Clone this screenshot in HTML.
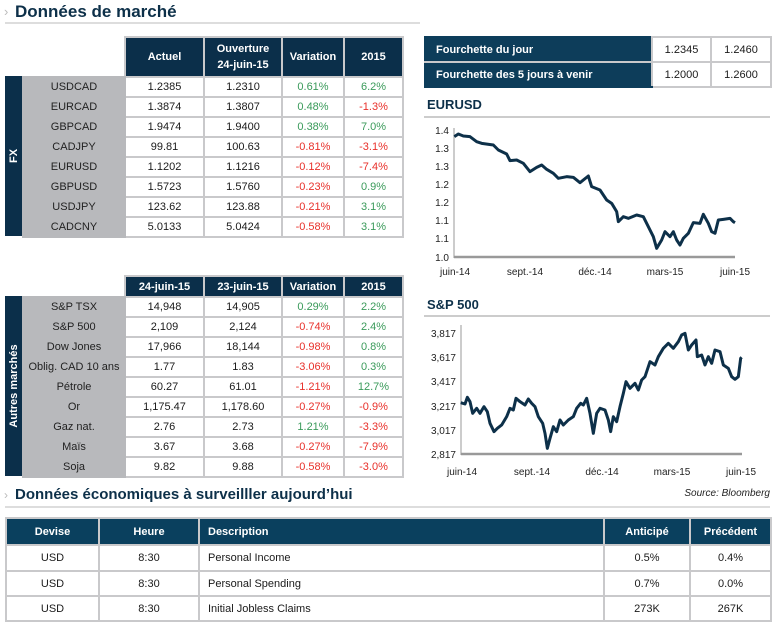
<!DOCTYPE html>
<html><head><meta charset="utf-8"><style>
*{margin:0;padding:0;box-sizing:border-box}
body{width:780px;height:628px;background:#fff;font-family:"Liberation Sans",sans-serif;position:relative;overflow:hidden;color:#1a1a1a}
.a{position:absolute}
.t{font-weight:bold;color:#0d3049}
table{border-collapse:collapse;position:absolute;font-size:11px;table-layout:fixed}
td{border:2px solid #c9c9cb;text-align:center;padding:0;white-space:nowrap;overflow:hidden}
th{background:#0b2f4a;color:#fff;font-weight:bold;border:2px solid #c9c9cb;font-size:11px;text-align:center}
td.l{background:#b8b9bc;border-color:#b8b9bc;color:#222}
.g{color:#3a9a5a}.r{color:#e8302a}
.side{position:absolute;background:#0b2f4a;color:#fff;font-size:11px;font-weight:bold}
.side span{position:absolute;left:50%;top:50%;transform:translate(-50%,-50%) rotate(-90deg);white-space:nowrap}
.ax{font-size:10px;fill:#222;font-family:"Liberation Sans",sans-serif}
</style></head><body>
<div class="a" style="left:4px;top:4px;color:#bbb;font-size:13px">›</div>
<div class="a t" style="left:15px;top:2px;font-size:17px">Données de marché</div>
<div class="a" style="left:5px;top:22px;width:415px;height:2px;background:#ddd"></div>

<table style="left:124px;top:36px;width:278px">
<colgroup><col style="width:79px"><col style="width:78px"><col style="width:62px"><col style="width:59px"></colgroup>
<tr style="height:40px"><th>Actuel</th><th style="line-height:16px">Ouverture<br>24-juin-15</th><th>Variation</th><th>2015</th></tr>
</table>
<div class="side" style="left:5px;top:76px;width:17px;height:160px"><span>FX</span></div>
<table style="left:22px;top:76px;width:380px">
<colgroup><col style="width:102px"><col style="width:79px"><col style="width:78px"><col style="width:62px"><col style="width:59px"></colgroup>
<tr style="height:20px"><td class="l">USDCAD</td><td>1.2385</td><td>1.2310</td><td class="g">0.61%</td><td class="g">6.2%</td></tr>
<tr style="height:20px"><td class="l">EURCAD</td><td>1.3874</td><td>1.3807</td><td class="g">0.48%</td><td class="r">-1.3%</td></tr>
<tr style="height:20px"><td class="l">GBPCAD</td><td>1.9474</td><td>1.9400</td><td class="g">0.38%</td><td class="g">7.0%</td></tr>
<tr style="height:20px"><td class="l">CADJPY</td><td>99.81</td><td>100.63</td><td class="r">-0.81%</td><td class="r">-3.1%</td></tr>
<tr style="height:20px"><td class="l">EURUSD</td><td>1.1202</td><td>1.1216</td><td class="r">-0.12%</td><td class="r">-7.4%</td></tr>
<tr style="height:20px"><td class="l">GBPUSD</td><td>1.5723</td><td>1.5760</td><td class="r">-0.23%</td><td class="g">0.9%</td></tr>
<tr style="height:20px"><td class="l">USDJPY</td><td>123.62</td><td>123.88</td><td class="r">-0.21%</td><td class="g">3.1%</td></tr>
<tr style="height:20px"><td class="l">CADCNY</td><td>5.0133</td><td>5.0424</td><td class="r">-0.58%</td><td class="g">3.1%</td></tr>
</table>

<table style="left:124px;top:275px;width:278px">
<colgroup><col style="width:79px"><col style="width:78px"><col style="width:62px"><col style="width:59px"></colgroup>
<tr style="height:21px"><th>24-juin-15</th><th>23-juin-15</th><th>Variation</th><th>2015</th></tr>
</table>
<div class="side" style="left:5px;top:296px;width:17px;height:180px"><span>Autres marchés</span></div>
<table style="left:22px;top:296px;width:380px">
<colgroup><col style="width:102px"><col style="width:79px"><col style="width:78px"><col style="width:62px"><col style="width:59px"></colgroup>
<tr style="height:20px"><td class="l">S&amp;P TSX</td><td>14,948</td><td>14,905</td><td class="g">0.29%</td><td class="g">2.2%</td></tr>
<tr style="height:20px"><td class="l">S&amp;P 500</td><td>2,109</td><td>2,124</td><td class="r">-0.74%</td><td class="g">2.4%</td></tr>
<tr style="height:20px"><td class="l">Dow Jones</td><td>17,966</td><td>18,144</td><td class="r">-0.98%</td><td class="g">0.8%</td></tr>
<tr style="height:20px"><td class="l">Oblig. CAD 10 ans</td><td>1.77</td><td>1.83</td><td class="r">-3.06%</td><td class="g">0.3%</td></tr>
<tr style="height:20px"><td class="l">Pétrole</td><td>60.27</td><td>61.01</td><td class="r">-1.21%</td><td class="g">12.7%</td></tr>
<tr style="height:20px"><td class="l">Or</td><td>1,175.47</td><td>1,178.60</td><td class="r">-0.27%</td><td class="r">-0.9%</td></tr>
<tr style="height:20px"><td class="l">Gaz nat.</td><td>2.76</td><td>2.73</td><td class="g">1.21%</td><td class="r">-3.3%</td></tr>
<tr style="height:20px"><td class="l">Maïs</td><td>3.67</td><td>3.68</td><td class="r">-0.27%</td><td class="r">-7.9%</td></tr>
<tr style="height:20px"><td class="l">Soja</td><td>9.82</td><td>9.88</td><td class="r">-0.58%</td><td class="r">-3.0%</td></tr>
</table>

<table style="left:424px;top:36px;width:346px">
<colgroup><col style="width:227px"><col style="width:59px"><col style="width:60px"></colgroup>
<tr style="height:25px"><th style="text-align:left;padding-left:10px;border-color:#0d3d5a #c9c9cb #c9c9cb #0d3d5a;background:#0d3d5a">Fourchette du jour</th><td>1.2345</td><td>1.2460</td></tr>
<tr style="height:25px"><th style="text-align:left;padding-left:10px;border-color:#c9c9cb #c9c9cb #0d3d5a #0d3d5a;background:#0d3d5a">Fourchette des 5 jours à venir</th><td>1.2000</td><td>1.2600</td></tr>
</table>

<div class="a t" style="left:427px;top:97px;font-size:13px">EURUSD</div>
<div class="a" style="left:424px;top:116px;width:346px;height:2px;background:#ccc"></div>
<div class="a t" style="left:427px;top:297px;font-size:13px">S&amp;P 500</div>
<div class="a" style="left:424px;top:315px;width:346px;height:2px;background:#ccc"></div>

<svg class="a" style="left:0;top:0" width="780" height="628">
<g class="ax" text-anchor="end">
<text x="449" y="134">1.4</text><text x="449" y="152">1.3</text><text x="449" y="170">1.3</text><text x="449" y="188">1.2</text><text x="449" y="206">1.2</text><text x="449" y="224">1.1</text><text x="449" y="242">1.1</text><text x="449" y="261">1.0</text>
</g>
<line x1="454" y1="128" x2="454" y2="258" stroke="#999"/>
<line x1="454" y1="257" x2="735" y2="257" stroke="#999" stroke-width="2.5"/>
<g class="ax" text-anchor="middle"><text x="455" y="275">juin-14</text><text x="525" y="275">sept.-14</text><text x="595" y="275">déc.-14</text><text x="665" y="275">mars-15</text><text x="735" y="275">juin-15</text></g>
<g transform="translate(410,30) scale(0.33333)"><polyline fill="none" stroke="#0d3049" stroke-width="9" stroke-linejoin="round" points="133,320 145,312 160,318 180,320 200,335 215,340 250,345 265,360 290,372 300,392 320,390 340,400 360,425 380,412 395,405 410,418 430,430 445,445 470,440 490,442 510,458 535,438 545,470 570,480 590,510 605,520 620,545 625,575 640,560 655,565 680,555 700,560 715,590 730,620 740,655 755,630 765,605 780,620 790,605 800,630 810,645 820,625 835,610 850,578 870,580 880,553 895,580 905,605 915,610 925,570 940,568 960,565 970,575 975,578"/></g>

<g class="ax" text-anchor="end">
<text x="456" y="337">3,817</text><text x="456" y="361">3,617</text><text x="456" y="385">3,417</text><text x="456" y="410">3,217</text><text x="456" y="434">3,017</text><text x="456" y="458">2,817</text>
</g>
<line x1="461" y1="325" x2="461" y2="455" stroke="#999"/>
<line x1="461" y1="454" x2="742" y2="454" stroke="#999" stroke-width="2.5"/>
<g class="ax" text-anchor="middle"><text x="462" y="475">juin-14</text><text x="532" y="475">sept.-14</text><text x="602" y="475">déc.-14</text><text x="672" y="475">mars-15</text><text x="741" y="475">juin-15</text></g>
<g transform="translate(410,280) scale(0.33333)"><polyline fill="none" stroke="#0d3049" stroke-width="9" stroke-linejoin="round" points="152,368 165,372 172,352 180,365 188,400 200,385 210,400 222,380 232,395 240,430 252,455 262,445 275,435 290,410 300,385 310,390 318,355 330,365 345,375 355,357 365,370 375,380 385,410 398,430 405,460 412,505 420,475 430,440 440,455 450,420 460,435 475,420 490,410 500,385 512,370 520,375 530,355 540,400 550,460 560,400 570,385 585,390 595,420 602,455 610,410 620,425 630,380 640,340 648,305 660,325 675,310 685,330 695,300 705,290 720,245 735,255 745,230 760,205 775,190 790,205 805,185 815,165 825,160 835,210 845,195 858,180 862,230 875,225 885,255 895,230 905,250 915,210 930,215 940,255 955,265 965,290 975,298 985,290 992,235 995,232"/></g>
</svg>

<div class="a" style="right:10px;top:488px;font-size:10px;font-style:italic;color:#222">Source: Bloomberg</div>
<div class="a" style="left:4px;top:488px;color:#bbb;font-size:12px">›</div>
<div class="a t" style="left:15px;top:486px;font-size:15px">Données économiques à surveilller aujourd’hui</div>
<div class="a" style="left:5px;top:506px;width:765px;height:2px;background:#ddd"></div>

<table style="left:5px;top:517px;width:765px;font-size:11px">
<colgroup><col style="width:93px"><col style="width:100px"><col style="width:405px"><col style="width:86px"><col style="width:81px"></colgroup>
<tr style="height:27px"><th style="background:#0a405e">Devise</th><th style="background:#0a405e">Heure</th><th style="background:#0a405e;text-align:left;padding-left:8px">Description</th><th style="background:#0a405e">Anticipé</th><th style="background:#0a405e">Précédent</th></tr>
<tr style="height:26px"><td>USD</td><td>8:30</td><td style="text-align:left;padding-left:8px">Personal Income</td><td>0.5%</td><td>0.4%</td></tr>
<tr style="height:25px"><td>USD</td><td>8:30</td><td style="text-align:left;padding-left:8px">Personal Spending</td><td>0.7%</td><td>0.0%</td></tr>
<tr style="height:25px"><td>USD</td><td>8:30</td><td style="text-align:left;padding-left:8px">Initial Jobless Claims</td><td>273K</td><td>267K</td></tr>
</table>
</body></html>
